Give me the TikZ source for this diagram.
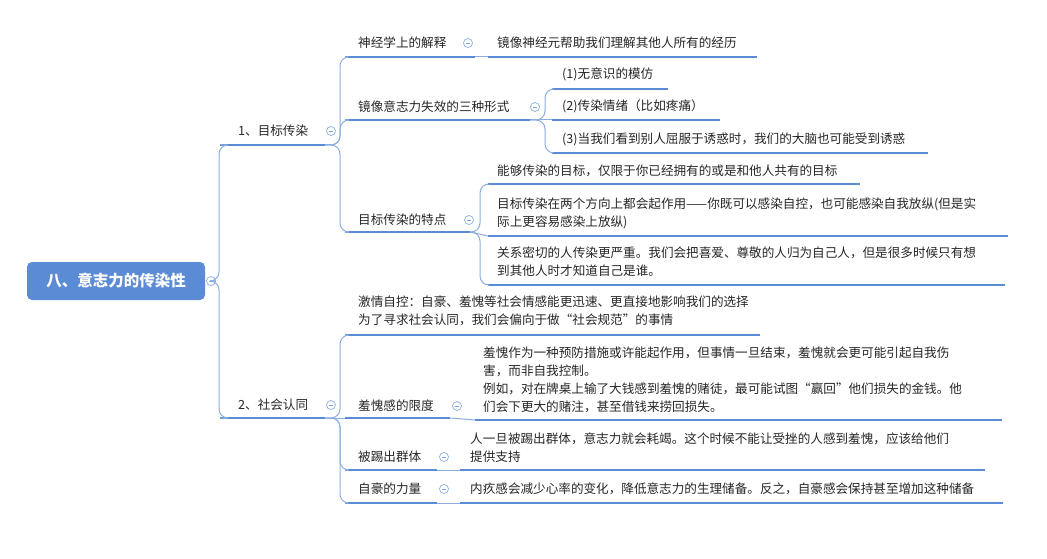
\documentclass[tikz,border=0pt]{standalone}
\usepackage{fontspec}
\setmainfont{Noto Sans CJK SC}
\usetikzlibrary{positioning}
\definecolor{mapblue}{HTML}{5B8BD4}
\definecolor{linkblue}{HTML}{8AAEE0}
\tikzset{
  topic/.style={anchor=west, inner sep=0pt, align=left, font=\fontsize{12.6}{18}\selectfont, text=black!85},
  uline/.style={draw=mapblue, line width=2.9pt},
  link/.style={draw=linkblue, line width=1pt, rounded corners=9pt},
  fold/.style={circle, draw=mapblue!70, line width=0.7pt, minimum size=9pt, inner sep=0pt, fill=white,
    path picture={\draw[mapblue!80, line width=0.7pt] ([xshift=-2.2pt]path picture bounding box.center) -- ([xshift=2.2pt]path picture bounding box.center);}}
}
\begin{document}
\begin{tikzpicture}[x=1pt, y=-1pt]
\useasboundingbox (0,0) rectangle (1047,559);
% root
\node (root) [fill=mapblue, rounded corners=5pt, minimum width=178pt, minimum height=38pt, text=white, font=\fontsize{15.5}{18}\selectfont\bfseries] at (116,281) {八、意志力的传染性};
\node (rootf) [fold] at (211,281) {};
% level one
\node (goal) [topic] at (238,131) {1、目标传染};
\node (goalf) [fold] at (331,131) {};
\coordinate (goall) at (220,145); \coordinate (goalr) at (325,145);
\node (social) [topic] at (238,405) {2、社会认同};
\node (socialf) [fold] at (331,405) {};
\coordinate (sociall) at (220,418); \coordinate (socialr) at (325,418);
\draw [uline] (goall) -- (goalr);
\draw [uline] (sociall) -- (socialr);
\draw [link] (rootf.east) -- (219,281) |- (goall);
\draw [link] (rootf.east) -- (219,281) |- (sociall);
% under goal
\node (neuro) [topic] at (358,43) {神经学上的解释};
\node (neurof) [fold] at (468,43) {};
\node (neuroa) [topic] at (497,43) {镜像神经元帮助我们理解其他人所有的经历};
\node (mirror) [topic] at (358,107) {镜像意志力失效的三种形式};
\node (mirrorf) [fold] at (535,107) {};
\node (forma) [topic] at (562,74) {(1)无意识的模仿};
\node (formb) [topic] at (562,106) {(2)传染情绪（比如疼痛）};
\node (formc) [topic] at (562,139) {(3)当我们看到别人屈服于诱惑时，我们的大脑也可能受到诱惑};
\node (trait) [topic] at (358,220) {目标传染的特点};
\node (traitf) [fold] at (469,220) {};
\node (traita) [topic] at (497,171) {能够传染的目标，仅限于你已经拥有的或是和他人共有的目标};
\node (traitb) [topic] at (497,213) {目标传染在两个方向上都会起作用——你既可以感染自控，也可能感染自我放纵(但是实\\际上更容易感染上放纵)};
\node (traitc) [topic] at (497,262) {关系密切的人传染更严重。我们会把喜爱、尊敬的人归为自己人，但是很多时候只有想\\到其他人时才知道自己是谁。};
\draw [uline] (345,57) -- (475,57);
\draw [uline] (488,57) -- (757,57);
\draw [uline] (345,120) -- (530,120);
\draw [uline] (552,89) -- (668,89);
\draw [uline] (552,120) -- (720,120);
\draw [uline] (552,153) -- (928,153);
\draw [uline] (345,232) -- (470,232);
\draw [uline] (488,184) -- (860,184);
\draw [uline] (488,236) -- (1008,236);
\draw [uline] (488,285) -- (1005,285);
\draw [link] (goalr) -- (340,145) |- (345,57);
\draw [link] (goalr) -- (340,145) |- (345,120);
\draw [link] (goalr) -- (340,145) |- (345,232);
\draw [link] (475,57) -- (488,57);
\draw [link] (530,120) -- (545,120) |- (552,89);
\draw [link] (530,120) -- (552,120);
\draw [link] (530,120) -- (545,120) |- (552,153);
\draw [link] (470,232) -- (480,232) |- (488,184);
\draw [link] (470,232) -- (488,236);
\draw [link] (470,232) -- (480,232) |- (488,285);
% under social
\node (passion) [topic] at (358,311) {激情自控：自豪、羞愧等社会情感能更迅速、更直接地影响我们的选择\\为了寻求社会认同，我们会偏向于做“社会规范”的事情};
\node (shame) [topic] at (358,406) {羞愧感的限度};
\node (shamef) [fold] at (457,406) {};
\node (shamea) [topic] at (483,380) {羞愧作为一种预防措施或许能起作用，但事情一旦结束，羞愧就会更可能引起自我伤\\害，而非自我控制。\\例如，对在牌桌上输了大钱感到羞愧的赌徒，最可能试图“赢回”他们损失的金钱。他\\们会下更大的赌注，甚至借钱来捞回损失。};
\node (kick) [topic] at (358,457) {被踢出群体};
\node (kickf) [fold] at (444,457) {};
\node (kicka) [topic] at (470,448) {人一旦被踢出群体，意志力就会耗竭。这个时候不能让受挫的人感到羞愧，应该给他们\\提供支持};
\node (pride) [topic] at (358,489) {自豪的力量};
\node (pridef) [fold] at (444,489) {};
\node (pridea) [topic] at (470,489) {内疚感会减少心率的变化，降低意志力的生理储备。反之，自豪感会保持甚至增加这种储备};
\draw [uline] (345,335) -- (760,335);
\draw [uline] (345,418) -- (450,418);
\draw [uline] (475,420) -- (1002,420);
\draw [uline] (345,470) -- (437,470);
\draw [uline] (460,470) -- (985,470);
\draw [uline] (345,503) -- (437,503);
\draw [uline] (460,503) -- (1003,503);
\draw [link] (socialr) -- (340,418) |- (345,335);
\draw [link] (socialr) -- (345,418);
\draw [link] (socialr) -- (340,418) |- (345,470);
\draw [link] (socialr) -- (340,418) |- (345,503);
\draw [link] (450,418) -- (475,420);
\draw [link] (437,470) -- (460,470);
\draw [link] (437,503) -- (460,503);
\end{tikzpicture}
\end{document}
